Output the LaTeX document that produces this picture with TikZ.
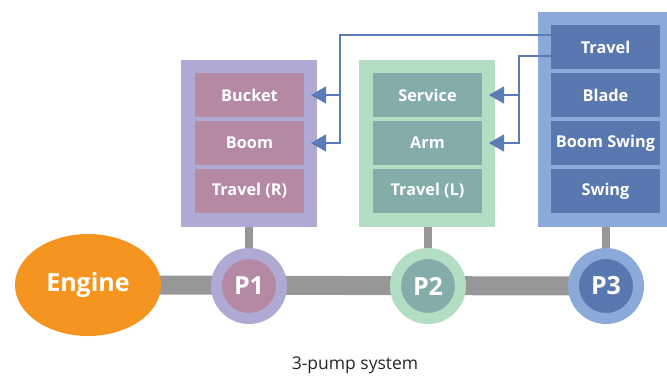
\documentclass[tikz,border=0pt]{standalone}
\usepackage{fontspec}
\setmainfont{Open Sans}
\usepackage{tikz}
\usetikzlibrary{calc, positioning, shapes.geometric, arrows.meta, backgrounds}

\definecolor{frameA}{HTML}{AFAAD3}
\definecolor{fillA}{HTML}{B589A4}
\definecolor{frameB}{HTML}{B4DEC3}
\definecolor{fillB}{HTML}{84ADAA}
\definecolor{frameC}{HTML}{8BA9D9}
\definecolor{fillC}{HTML}{5A78B0}
\definecolor{engineorange}{HTML}{F5951F}
\definecolor{shaftgray}{HTML}{97979A}
\definecolor{linkblue}{HTML}{5B7BB6}

\tikzset{
  group/.style={inner sep=0pt, outer sep=0pt, minimum width=136pt},
  item/.style={inner sep=0pt, outer sep=0pt, minimum width=109pt, minimum height=44pt,
    text=white, font=\fontsize{16.3}{18}\selectfont\bfseries},
  pump/.style={circle, inner sep=0pt, outer sep=0pt, minimum size=65pt, line width=11pt,
    text=white, font=\fontsize{25}{28}\selectfont\bfseries},
  shaft/.style={shaftgray, line width=19pt},
  stub/.style={shaftgray, line width=8pt},
  link/.style={linkblue, line width=1.4pt, -{Triangle[length=15pt,width=17pt]}},
}

\begin{document}
\begin{tikzpicture}[x=1pt, y=-1pt]
  \clip (0,0) rectangle (667,376);

  % pump groups
  \node[group, fill=frameA, minimum height=167pt] (g1) at (249,143.5) {};
  \node[group, fill=frameB, minimum height=167pt] (g2) at (427,143.5) {};
  \node[group, fill=frameC, minimum height=215pt] (g3) at (605.5,119.5) {};

  \node[item, fill=fillA] (bucket) at (249.5,95) {Bucket};
  \node[item, fill=fillA, below=4pt of bucket] (boom) {Boom};
  \node[item, fill=fillA, below=4pt of boom] (travelR) {Travel (R)};

  \node[item, fill=fillB] (service) at (427.5,95) {Service};
  \node[item, fill=fillB, below=4pt of service] (arm) {Arm};
  \node[item, fill=fillB, below=4pt of arm] (travelL) {Travel (L)};

  \node[item, fill=fillC] (travel) at (605.5,47) {Travel};
  \node[item, fill=fillC, below=4pt of travel] (blade) {Blade};
  \node[item, fill=fillC, below=4pt of blade] (boomswing) {Boom Swing};
  \node[item, fill=fillC, below=4pt of boomswing] (swing) {Swing};

  % engine and pumps
  \node[ellipse, fill=engineorange, minimum width=146pt, minimum height=102pt, inner sep=0pt,
    text=white, font=\fontsize{25}{28}\selectfont\bfseries] (engine) at (88,285) {Engine};
  \node[pump, draw=frameA, fill=fillA] (p1) at (249,286) {P1};
  \node[pump, draw=frameB, fill=fillB] (p2) at (428,286) {P2};
  \node[pump, draw=frameC, fill=fillC] (p3) at (606,286) {P3};

  \begin{scope}[on background layer]
    \draw[shaft] (engine.center) -- (p3.center);
    \draw[stub] (g1.south -| p1) -- (p1.north);
    \draw[stub] (g2.south -| p2) -- (p2.north);
    \draw[stub] (g3.south -| p3) -- (p3.north);
  \end{scope}

  % travel links
  \coordinate (t1) at ($(travel.west)+(0,-12)$);
  \coordinate (t2) at ($(travel.west)+(0,9)$);
  \coordinate (k1) at ($(g1.east |- boom)+(23,0)$);
  \coordinate (k2) at ($(g2.east |- arm)+(24,0)$);
  \coordinate (a1) at ($(g1.east)+(-6,0)$);
  \coordinate (a2) at ($(g2.east)+(-6,0)$);
  \draw[link] (t1) -| (k1) -- (a1 |- boom);
  \draw[link] (k1 |- bucket) -- (a1 |- bucket);
  \draw[link] (t2) -| (k2) -- (a2 |- arm);
  \draw[link] (k2 |- service) -- (a2 |- service);

  \node[text=black!85, font=\fontsize{17.5}{20}\selectfont] (caption) at (355,365) {3-pump system};
\end{tikzpicture}
\end{document}
